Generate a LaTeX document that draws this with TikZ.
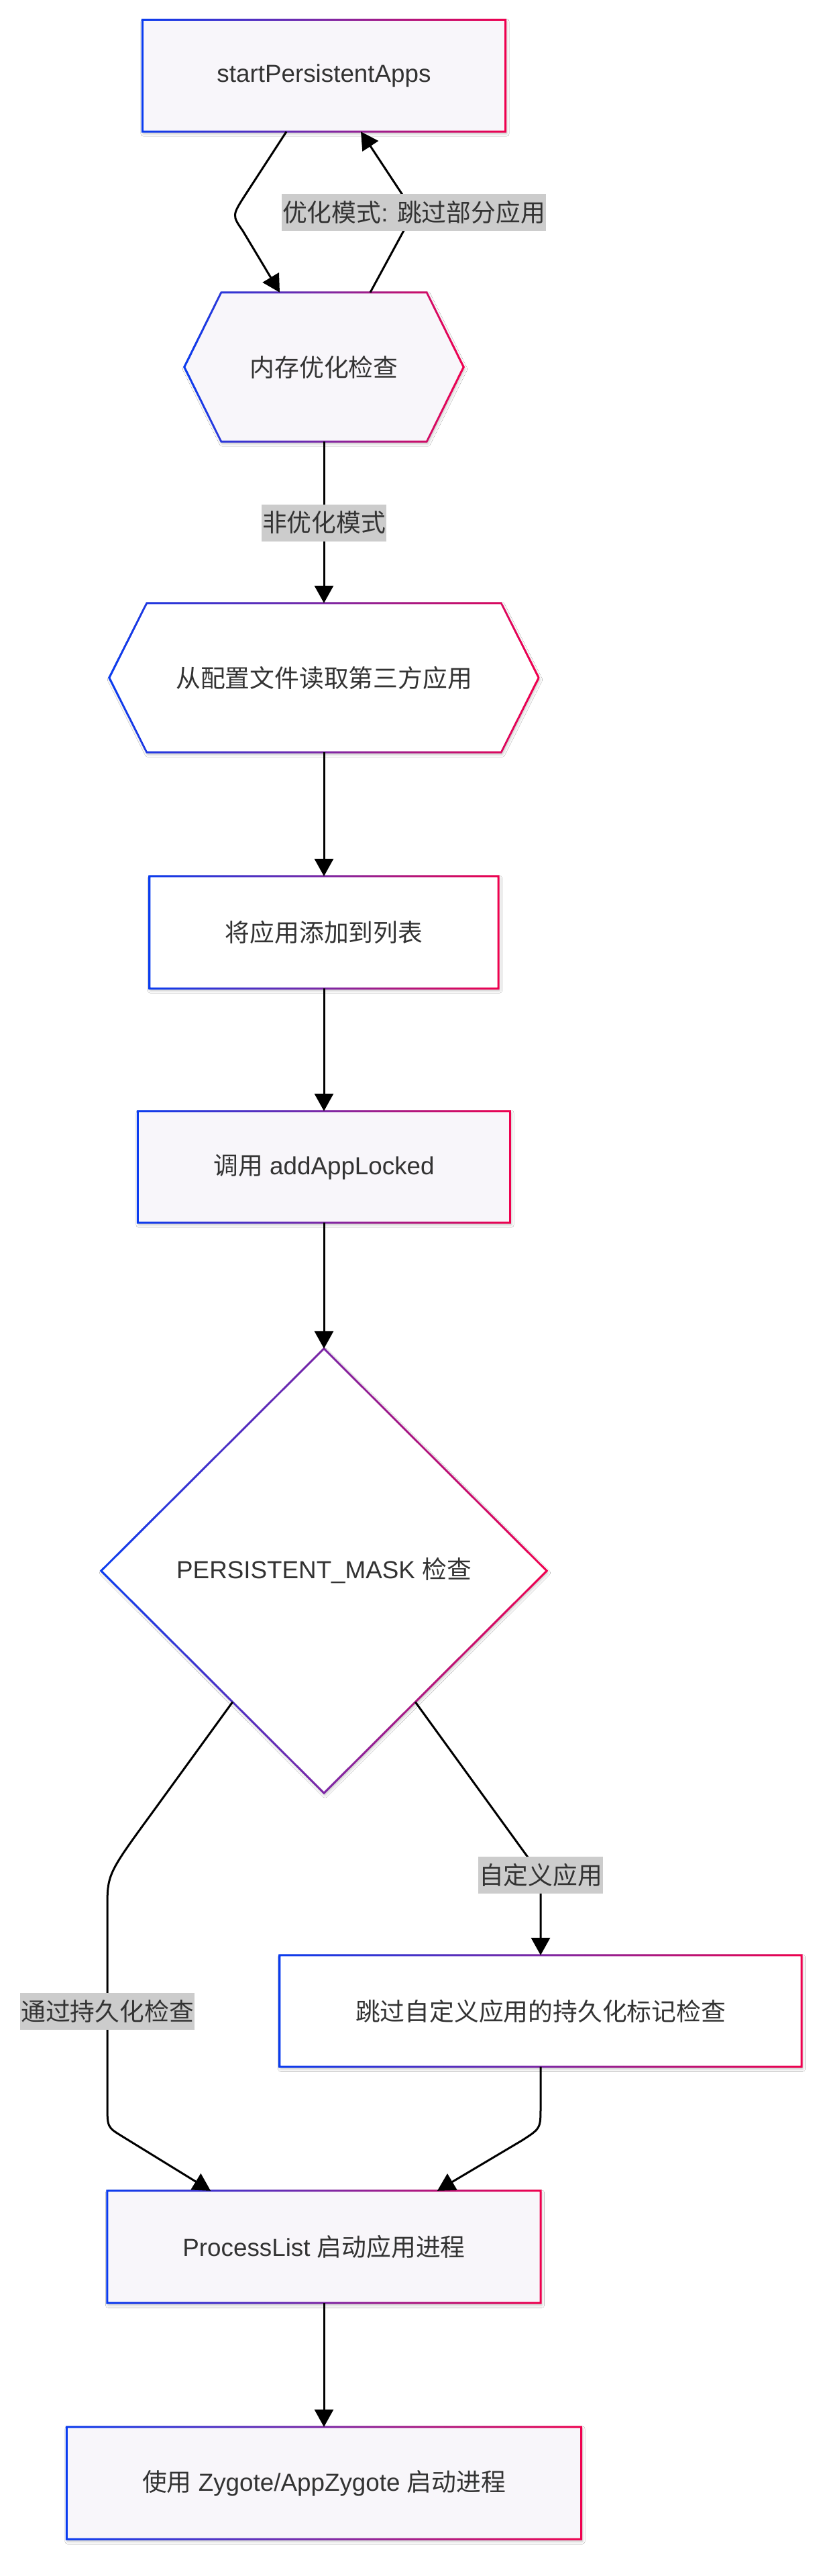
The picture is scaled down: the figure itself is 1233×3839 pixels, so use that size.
\documentclass[tikz,border=0pt]{standalone}
\usepackage{fontspec}
\setmainfont{Liberation Sans}
\newfontfamily\cjk{Noto Sans CJK SC}
\usetikzlibrary{arrows.meta,calc,shapes.geometric,shadows.blur}
\definecolor{gblue}{HTML}{0A3CF0}
\definecolor{gpurple}{HTML}{7D28A6}
\definecolor{gred}{HTML}{F0004E}
\definecolor{nfill}{HTML}{F8F6FA}
\definecolor{txt}{HTML}{333333}
\definecolor{lblbg}{HTML}{CCCCCC}
\tikzset{
  nbox/.style={rectangle, inner sep=0pt, minimum height=167pt, text=txt, font=\fontsize{36.8}{44}\selectfont},
  ring/.style={even odd rule, left color=gblue, right color=gred, middle color=gpurple},
  shad/.style={blur shadow={shadow xshift=1.5pt, shadow yshift=-3pt, shadow blur radius=4pt, shadow opacity=25}},
  conn/.style={line width=3pt, black},
  arr/.style={conn, -{Triangle[length=26pt,width=28pt]}},
  lbl/.style={fill=lblbg, text=txt, inner xsep=1pt, inner ysep=0pt, minimum height=55pt, font=\fontsize{36.8}{44}\selectfont}
}
\newcommand\rectshape[2]{%
  \fill[#2, shad] (#1.north west) rectangle (#1.south east);
  \shade[ring] ($(#1.north west)+(-1.5,-1.5)$) rectangle ($(#1.south east)+(1.5,1.5)$)
               ($(#1.north west)+(1.5,1.5)$) rectangle ($(#1.south east)+(-1.5,-1.5)$);}
\newcommand\hexshape[3]{%
  \fill[#3, shad] (#1.west) -- ($(#1.north west)+(#2,0)$) -- ($(#1.north east)+(-#2,0)$) -- (#1.east)
     -- ($(#1.south east)+(-#2,0)$) -- ($(#1.south west)+(#2,0)$) -- cycle;
  \shade[ring] ($(#1.west)+(-1.7,0)$) -- ($(#1.north west)+(#2-0.8,-1.5)$) -- ($(#1.north east)+(-#2+0.8,-1.5)$)
     -- ($(#1.east)+(1.7,0)$) -- ($(#1.south east)+(-#2+0.8,1.5)$) -- ($(#1.south west)+(#2-0.8,1.5)$) -- cycle
     ($(#1.west)+(1.7,0)$) -- ($(#1.north west)+(#2+0.8,1.5)$) -- ($(#1.north east)+(-#2-0.8,1.5)$)
     -- ($(#1.east)+(-1.7,0)$) -- ($(#1.south east)+(-#2-0.8,-1.5)$) -- ($(#1.south west)+(#2+0.8,-1.5)$) -- cycle;}
\newcommand\diashape[2]{%
  \fill[#2, shad] (#1.north) -- (#1.east) -- (#1.south) -- (#1.west) -- cycle;
  \shade[ring] ($(#1.north)+(0,-2.1)$) -- ($(#1.east)+(2.1,0)$) -- ($(#1.south)+(0,2.1)$) -- ($(#1.west)+(-2.1,0)$) -- cycle
     ($(#1.north)+(0,2.1)$) -- ($(#1.east)+(-2.1,0)$) -- ($(#1.south)+(0,-2.1)$) -- ($(#1.west)+(2.1,0)$) -- cycle;}
\begin{document}
\begin{tikzpicture}[x=1pt,y=-1pt]
\fill[white] (0,0) rectangle (1233,3839);
\useasboundingbox (0,0) rectangle (1233,3839);
% nodes (shapes)
\node[nbox, minimum width=541pt, minimum height=166.5pt] (b1) at (483,112.75) {};
\node[nbox, minimum width=416pt, minimum height=222pt] (h1) at (483,547) {};
\node[nbox, minimum width=640pt, minimum height=222pt] (h2) at (483,1010) {};
\node[nbox, minimum width=520pt] (b3) at (483,1389.5) {};
\node[nbox, minimum width=555pt, minimum height=166pt] (b4) at (483,1739) {};
\node[diamond, inner sep=0pt, minimum width=664pt, minimum height=662pt] (d) at (483,2341) {};
\node[nbox, minimum width=778pt, minimum height=166pt] (sk) at (806,2997) {};
\node[nbox, minimum width=646pt] (p) at (483,3348.5) {};
\node[nbox, minimum width=767pt] (z) at (483,3700.5) {};
\rectshape{b1}{nfill}
\hexshape{h1}{55}{nfill}
\hexshape{h2}{56}{white}
\rectshape{b3}{white}
\rectshape{b4}{nfill}
\diashape{d}{white}
\rectshape{sk}{white}
\rectshape{p}{nfill}
\rectshape{z}{nfill}
% texts
\node[nbox, minimum height=0pt] (t1) at (b1.center) {startPersistentApps};
\node[nbox, minimum height=0pt] (t2) at (h1.center) {\cjk 内存优化检查};
\node[nbox, minimum height=0pt] (t3) at (h2.center) {\cjk 从配置文件读取第三方应用};
\node[nbox, minimum height=0pt] (t4) at (b3.center) {\cjk 将应用添加到列表};
\node[nbox, minimum height=0pt] (t5) at (b4.center) {{\cjk 调用} addAppLocked};
\node[nbox, minimum height=0pt] (t6) at (d.center) {PERSISTENT\_MASK {\cjk 检查}};
\node[nbox, minimum height=0pt] (t7) at (sk.center) {\cjk 跳过自定义应用的持久化标记检查};
\node[nbox, minimum height=0pt] (t8) at (p.center) {ProcessList {\cjk 启动应用进程}};
\node[nbox, minimum height=0pt] (t9) at (z.center) {{\cjk 使用} Zygote/AppZygote {\cjk 启动进程}};
% connectors
\draw[arr] ([xshift=-56pt]b1.south) -- (366,290) .. controls (346,321) .. (362,344) -- ([xshift=-66pt]h1.north);
\draw[arr] ([xshift=69pt]h1.north) -- (617,316) -- ([xshift=55pt]b1.south);
\draw[arr] (h1.south) -- (h2.north);
\draw[arr] (h2.south) -- (b3.north);
\draw[arr] (b3.south) -- (b4.north);
\draw[arr] (b4.south) -- (d.north);
\draw[arr] ($(d.east)!0.59!(d.south)$) -- (806,2794) -- (sk.north);
\draw[arr] ($(d.west)!0.59!(d.south)$) -- (228,2700) .. controls (160,2793) .. (160,2845) -- (160,3136) .. controls (160,3170) .. (181,3183) -- ([xshift=-169pt]p.north);
\draw[arr] (sk.south) -- (806,3140) .. controls (806,3172) .. (778,3190) -- ([xshift=169pt]p.north);
\draw[arr] (p.south) -- (z.north);
% edge labels
\node[lbl] (l1) at (617,316) {{\cjk 优化模式}: {\cjk 跳过部分应用}};
\node[lbl] (l2) at (483,779) {\cjk 非优化模式};
\node[lbl] (l3) at (806,2794) {\cjk 自定义应用};
\node[lbl] (l4) at (160,2997) {\cjk 通过持久化检查};
\end{tikzpicture}
\end{document}
